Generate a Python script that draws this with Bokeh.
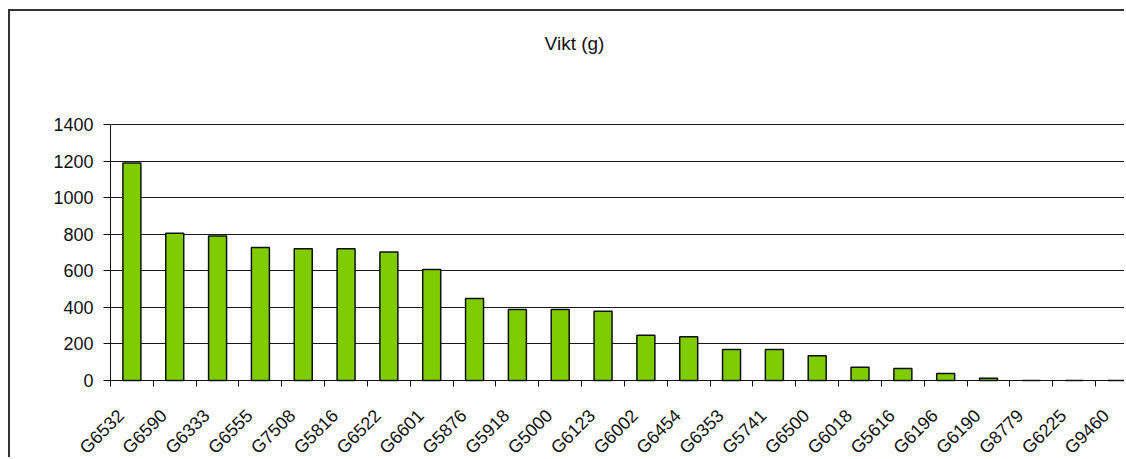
import math
import numpy as np
from bokeh.plotting import figure
from bokeh.core.properties import value
from bokeh.models import Range1d, FixedTicker, ColumnDataSource, Label, LabelSet, GlobalInlineStyleSheet
from bokeh.embed import file_html
from bokeh.resources import INLINE

categories = ["G6532", "G6590", "G6333", "G6555", "G7508", "G5816", "G6522", "G6601",
              "G5876", "G5918", "G5000", "G6123", "G6002", "G6454", "G6353", "G5741",
              "G6500", "G6018", "G5616", "G6196", "G6190", "G8779", "G6225", "G9460"]
weights = [1190, 805, 790, 727, 720, 720, 703, 607, 448, 388, 388, 379, 248, 239,
           169, 169, 135, 73, 66, 38, 12, 0, 0, 0]
y_ticks = [0, 200, 400, 600, 800, 1000, 1200, 1400]
title_text = "Vikt (g)"

FONT = "Liberation Sans"
n = len(categories)
idx = np.arange(n)
centers = idx + 0.5

# canvas geometry (pixels)
W, H = 1116, 448
LEFT = 100         # canvas x of the value axis
ZERO_PX = 369      # canvas y of value 0
TOP_PX = 113       # canvas y of value 1400
CAT_PX = 42.83     # width of one category
ppu = (ZERO_PX - TOP_PX) / 1400.0
y_start = -(H - ZERO_PX) / ppu
y_end = 1400 + TOP_PX / ppu
x_start = -LEFT / CAT_PX
x_end = (W - LEFT) / CAT_PX

src = ColumnDataSource(dict(x=centers, top=weights, cat=categories, base=[0] * n))

p = figure(width=W, height=H, output_backend="svg", toolbar_location=None,
           x_range=Range1d(x_start, x_end), y_range=Range1d(y_start, y_end),
           min_border_left=0, min_border_right=0, min_border_top=0,
           min_border_bottom=0)
p.styles = {"margin-left": "8px", "margin-top": "9px",
            "border-left": "2px solid #333333", "border-top": "2px solid #333333"}
p.stylesheets = [GlobalInlineStyleSheet(css="html, body { overflow: hidden; }")]

p.outline_line_color = None
p.xgrid.visible = False
grid_done = False
try:
    p.ygrid.cross_bounds = (0, x_end)
    grid_done = True
except Exception:
    grid_done = False
if grid_done:
    p.ygrid.ticker = FixedTicker(ticks=y_ticks)
    p.ygrid.grid_line_color = "#1a1a1a"
    p.ygrid.grid_line_width = 1
else:
    p.ygrid.visible = False
    gsrc = ColumnDataSource(dict(y=y_ticks, x0=[0] * len(y_ticks), x1=[x_end] * len(y_ticks)))
    p.segment(x0="x0", y0="y", x1="x1", y1="y", source=gsrc, line_color="#1a1a1a", line_width=1)

p.vbar(x="x", top="top", width=0.42, source=src, fill_color="#7fcc00",
       line_color="#111111", line_width=1.5)

title = Label(x=564, y=H - 32, x_units="screen", y_units="screen", text=title_text,
              text_align="center", text_baseline="middle", text_font=FONT,
              text_font_size="19px", text_color="#111111")
p.add_layout(title)

cat_labels = LabelSet(x="x", y="base", text="cat", source=src, angle=math.pi / 4,
                      x_offset=-18, y_offset=-25, text_align="right", text_baseline="top",
                      text_font=value(FONT), text_font_size=value("18px"),
                      text_color="#111111")
p.add_layout(cat_labels)

ya = p.yaxis[0]
ya.fixed_location = 0
ya.ticker = FixedTicker(ticks=y_ticks)
ya.bounds = (0, 1400)
ya.major_tick_out = 7
ya.major_tick_in = 0
ya.minor_tick_out = 0
ya.minor_tick_in = 0
ya.major_label_standoff = 10
ya.axis_line_color = "#111111"
ya.major_tick_line_color = "#111111"
ya.major_label_text_font = FONT
ya.major_label_text_font_size = "18px"
ya.major_label_text_color = "#111111"

xa = p.xaxis[0]
xa.fixed_location = 0
xa.bounds = (0, x_end)
xa.ticker = FixedTicker(ticks=[], minor_ticks=[float(i) for i in range(n + 1)])
xa.major_tick_out = 0
xa.major_tick_in = 0
xa.minor_tick_out = 6
xa.minor_tick_in = 0
xa.minor_tick_line_color = "#111111"
xa.axis_line_color = "#111111"

open("out.html", "w").write(file_html(p, INLINE))
